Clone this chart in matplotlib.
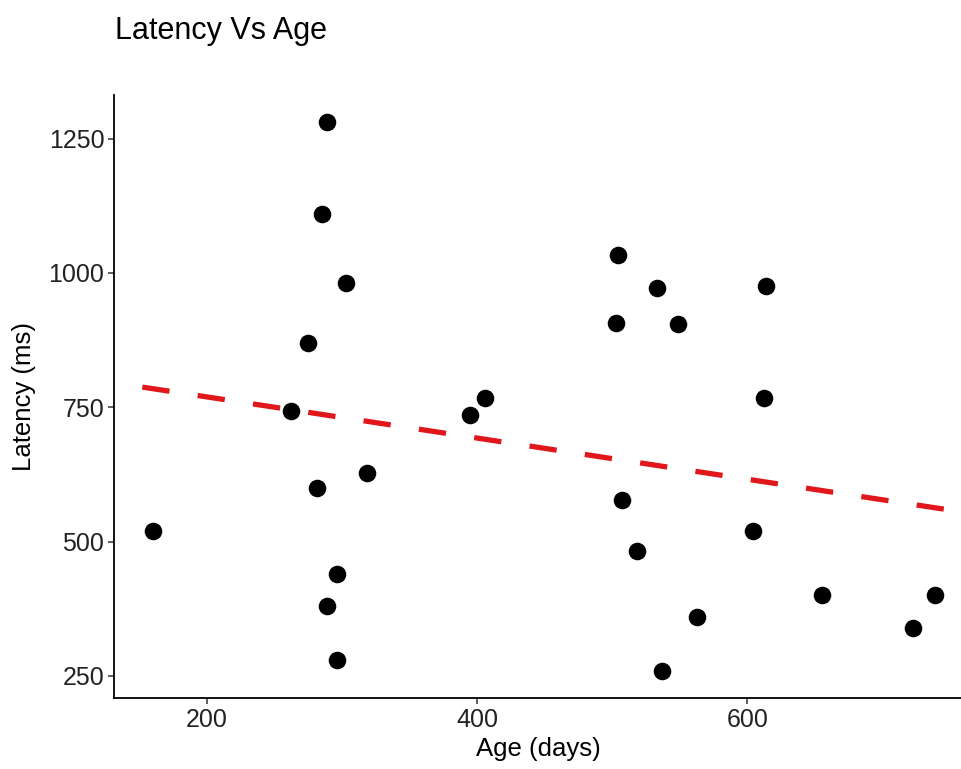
import numpy as np
import matplotlib
matplotlib.use("Agg")
import matplotlib.pyplot as plt

plt.rcParams["font.family"] = ["Liberation Sans", "DejaVu Sans"]

# data
age_days = [160, 262, 275, 285, 289, 303, 281, 318, 296, 289, 296,
            395, 406, 504, 503, 533, 549, 614, 612, 507, 518, 604,
            563, 537, 655, 723, 739]
latency_ms = [520, 743, 870, 1110, 1280, 982, 600, 628, 440, 380, 280,
              736, 768, 1034, 906, 971, 904, 975, 768, 578, 483, 520,
              360, 260, 400, 340, 400]

x_ticks = [200, 400, 600]
y_ticks = [250, 500, 750, 1000, 1250]

age = np.array(age_days)
lat = np.array(latency_ms)

# linear fit like geom_smooth(method = "lm"), drawn across the panel
slope, intercept = np.polyfit(age, lat, 1)
fit_x = np.array([age.min() - 8, 760])
fit_y = slope * fit_x + intercept

fig = plt.figure(figsize=(9.62, 7.69), dpi=100)
ax = fig.add_axes([0.1185, 0.0923, 0.8815, 0.7842])

ax.scatter(age, lat, s=160, color="black", zorder=3, linewidths=0)
ax.plot(fit_x, fit_y, color="#e0181b", linewidth=3.8,
        linestyle=(0, (5.2, 5.4)), zorder=4)

ax.set_xlim(131, 759)
ax.set_ylim(209, 1331)
ax.set_xticks(x_ticks)
ax.set_yticks(y_ticks)

for side in ["top", "right"]:
    ax.spines[side].set_visible(False)
for side in ["left", "bottom"]:
    ax.spines[side].set_linewidth(1.3)
    ax.spines[side].set_color("black")

ax.tick_params(axis="both", length=4, width=1.1, color="#333333",
               labelsize=18, labelcolor="#222222", pad=3)

ax.set_xlabel("Age (days)", fontsize=18.5, color="black", labelpad=4)
ax.set_ylabel("Latency (ms)", fontsize=18.5, color="black", labelpad=9)
fig.text(0.1195, 0.960, "Latency Vs Age", fontsize=22, color="black",
         ha="left", va="center")

fig.savefig("out.png", dpi=100)
